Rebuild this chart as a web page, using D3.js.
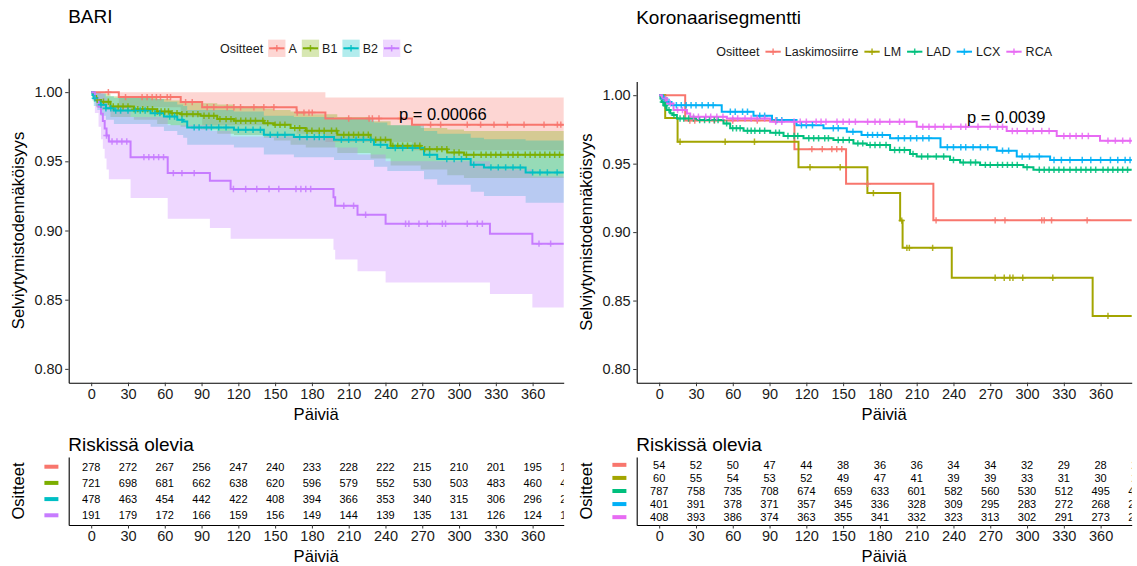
<!DOCTYPE html>
<html>
<head>
<meta charset="utf-8">
<script src="https://cdn.jsdelivr.net/npm/d3@7"></script>
<style>
  body { margin: 0; background: #fff; }
  svg { display: block; font-family: "Liberation Sans", Arial, sans-serif; }
</style>
</head>
<body>
<svg id="chart" width="1137" height="566"></svg>
<script>
// ---- shared axis data ----
const xTicks   = [0, 30, 60, 90, 120, 150, 180, 210, 240, 270, 300, 330, 360];
const riskDays = [0, 30, 60, 90, 120, 150, 180, 210, 240, 270, 300, 330, 360, 390];
const yTicks   = [0.80, 0.85, 0.90, 0.95, 1.00];

// ---- BARI panel ----
const bariGroups = ["A", "B1", "B2", "C"];
const bariColors = ["#F8766D", "#7CAE00", "#00BFC4", "#C77CFF"];

// [day, survival, lower, upper]
const bariA = [
  [0, 1, 1, 1], [22.5, 0.9964, 0.989, 1], [73, 0.9928, 0.982, 1], [90.5, 0.9891, 0.976, 1],
  [167.5, 0.9852, 0.970, 1], [191, 0.9810, 0.964, 0.9961], [261.6, 0.9765, 0.958, 0.9961]
];
const bariB1 = [
  [0, 1, 1, 1], [2, 0.9972, 0.993, 1], [4, 0.9944, 0.989, 0.9998], [8, 0.993, 0.987, 0.999],
  [15.7, 0.9896, 0.982, 0.997], [34.8, 0.9877, 0.980, 0.996], [53.8, 0.986, 0.977, 0.995],
  [64.7, 0.9848, 0.976, 0.994], [72.9, 0.9841, 0.975, 0.993], [89.2, 0.9829, 0.973, 0.992],
  [102.8, 0.9805, 0.970, 0.991], [116.4, 0.9793, 0.969, 0.990], [140.8, 0.9776, 0.967, 0.988],
  [149, 0.9764, 0.965, 0.987], [162.6, 0.974, 0.962, 0.986], [175, 0.9721, 0.960, 0.984],
  [200.7, 0.9692, 0.956, 0.982], [227.9, 0.9656, 0.952, 0.979], [244.2, 0.9612, 0.947, 0.976],
  [268.7, 0.9588, 0.944, 0.974], [290.4, 0.9564, 0.940, 0.973], [304, 0.9547, 0.938, 0.972]
];
const bariB2 = [
  [0, 1, 1, 1], [1, 0.9979, 0.994, 1], [2.1, 0.9956, 0.990, 1], [5, 0.9935, 0.987, 1],
  [7.6, 0.9908, 0.983, 0.999], [12, 0.9884, 0.980, 0.997], [18.5, 0.9867, 0.977, 0.996],
  [48.4, 0.9848, 0.975, 0.995], [59.3, 0.9824, 0.972, 0.993], [70.2, 0.98, 0.969, 0.991],
  [75, 0.9788, 0.967, 0.990], [78.3, 0.9745, 0.962, 0.987], [116.4, 0.9728, 0.960, 0.986],
  [140.8, 0.9692, 0.955, 0.983], [165.3, 0.9675, 0.953, 0.982], [198, 0.9656, 0.951, 0.981],
  [230.6, 0.962, 0.946, 0.978], [241.5, 0.9596, 0.943, 0.976], [271.4, 0.9547, 0.937, 0.972],
  [282.2, 0.9516, 0.933, 0.970], [309.5, 0.9475, 0.928, 0.967], [320.3, 0.9456, 0.925, 0.966],
  [354.3, 0.942, 0.920, 0.965]
];
const bariC = [
  [0, 1, 1, 1], [3, 0.9948, 0.985, 1], [6, 0.9895, 0.975, 1], [8, 0.9843, 0.966, 1],
  [9.5, 0.9791, 0.959, 0.999], [11, 0.9738, 0.952, 0.996], [12.5, 0.9686, 0.944, 0.994],
  [14.4, 0.9643, 0.937, 0.990], [32.1, 0.953, 0.9235, 0.982], [62.4, 0.9415, 0.9085, 0.976],
  [96.8, 0.936, 0.9018, 0.972], [113.7, 0.930, 0.894, 0.968], [197.6, 0.924, 0.886, 0.964],
  [199, 0.9179, 0.879, 0.960], [217.2, 0.9114, 0.8705, 0.955], [240.1, 0.9049, 0.8625, 0.950],
  [325.2, 0.8977, 0.8541, 0.944], [359.8, 0.8905, 0.8444, 0.939]
];

const bariACensor  = [14, 28, 41.5, 45.6, 49.7, 53.2, 56.5, 62, 64.7, 77, 82.4, 94.6, 100, 110.9, 116.4, 121.8, 132.7, 140.8, 149,
                      168, 173.5, 177.6, 180.3, 210, 226.6, 229.3, 234.7, 252.4, 276.8, 285, 306.7, 317.6, 328.5, 339.4, 353, 369.3, 380.2, 383];
const bariB1Censor = [5, 10, 14, 18, 22, 26, 30, 35, 38, 42, 46, 50, 54, 57, 60, 63, 66, 70, 74, 78, 83, 87, 92, 96, 100, 105, 110, 114,
                      118, 122, 126, 130, 134, 140, 144, 150, 154, 158, 166, 170, 176, 180, 186, 190, 196, 200, 206, 210, 214, 218, 222,
                      226, 232, 236, 240, 246, 250, 254, 258, 264, 268, 272, 276, 282, 286, 290, 296, 300, 306, 312, 318, 322, 326, 330,
                      334, 340, 344, 348, 354, 358, 362, 366, 370, 374, 378, 382];
const bariB2Censor = [3, 8, 12, 16, 20, 24, 30, 36, 40, 44, 52, 56, 64, 68, 74, 84, 88, 94, 98, 104, 110, 120, 126, 132, 138, 146, 152,
                      158, 170, 176, 182, 186, 190, 204, 210, 216, 222, 228, 236, 248, 254, 262, 276, 290, 296, 302, 312, 326, 332,
                      338, 344, 350, 360, 366, 372, 380];
const bariCCensor  = [12.5, 17, 21, 25, 29, 43, 47, 51, 55, 59, 67, 74, 84, 116, 126, 135, 145, 153, 167, 171, 175, 179, 206, 214,
                      223.8, 256.4, 259.1, 267.3, 274.1, 286.4, 289, 306.7, 314.9, 319, 365.2, 374.7];

const bariRiskA  = [278, 272, 267, 256, 247, 240, 233, 228, 222, 215, 210, 201, 195, 190];
const bariRiskB1 = [721, 698, 681, 662, 638, 620, 596, 579, 552, 530, 503, 483, 460, 446];
const bariRiskB2 = [478, 463, 454, 442, 422, 408, 394, 366, 353, 340, 315, 306, 296, 288];
const bariRiskC  = [191, 179, 172, 166, 159, 156, 149, 144, 139, 135, 131, 126, 124, 120];

// ---- Koronaarisegmentti panel ----
const koroGroups = ["Laskimosiirre", "LM", "LAD", "LCX", "RCA"];
const koroColors = ["#F8766D", "#A3A500", "#00BF7D", "#00B0F6", "#E76BF3"];

// [day, survival]
const koroLas = [[0, 1], [21.2, 0.9815], [110.3, 0.9606], [152.4, 0.9353], [223.6, 0.9086]];
const koroLM  = [[0, 1], [4.9, 0.9833], [15, 0.966], [113.6, 0.9474], [169.8, 0.9285], [196.5, 0.9084],
                 [198.5, 0.8885], [238.6, 0.8667], [353.5, 0.8388]];
const koroLAD = [[0, 1], [1, 0.9975], [2, 0.995], [4, 0.9925], [6, 0.9891], [9, 0.9868], [11, 0.9855], [14.4, 0.983],
                 [30, 0.9818], [52.4, 0.9794], [57.9, 0.9758], [68.8, 0.974], [90.5, 0.9726], [101.4, 0.9702],
                 [117.7, 0.9685], [142.1, 0.9673], [158.4, 0.9648], [169.3, 0.9636], [188.3, 0.96], [204.6, 0.9571],
                 [210, 0.9552], [237.2, 0.9527], [245.4, 0.9508], [261.7, 0.9491], [297, 0.9474], [305.2, 0.9455]];
const koroLCX = [[0, 1], [3, 0.9975], [6.25, 0.995], [10, 0.9927], [51, 0.9879], [76.9, 0.985], [92, 0.9818],
                 [112, 0.978], [134, 0.9758], [153, 0.9733], [165, 0.971], [188.3, 0.9685], [229.4, 0.962],
                 [275.3, 0.9595], [291.6, 0.9552], [318.8, 0.9527]];
const koroRCA = [[0, 1], [2.2, 0.9975], [6.25, 0.994], [11.7, 0.9891], [22.6, 0.9866], [25.3, 0.9842], [55.2, 0.983],
                 [90.5, 0.9806], [210, 0.977], [283.4, 0.9738], [324.2, 0.9702], [359.5, 0.9668]];

const koroLasCensor = [25, 29, 45, 60, 80, 95, 124.5, 133, 140.8, 144.8, 148.9, 170, 225.8, 274, 282, 312, 314, 320, 349];
const koroLMCensor  = [17, 53.8, 77.7, 123, 147.6, 174.7, 197.8, 202, 204, 223, 274, 281.4, 286, 288.5, 296.5, 321, 366];
const koroLADCensor = [3, 5, 8, 12, 17, 20, 24, 28, 33, 37, 41, 45, 48, 55, 60, 63, 66, 72, 75, 78, 82, 86, 95, 98, 105, 110,
                       113, 122, 126, 130, 135, 138, 146, 150, 155, 162, 166, 172, 176, 180, 185, 192, 196, 200, 207, 214, 219,
                       226, 232, 240, 248, 254, 258, 266, 270, 276, 280, 284, 288, 292, 300, 310, 314, 318, 322, 326, 330, 335,
                       340, 344, 348, 352, 356, 362, 366, 370, 374, 378, 382];
const koroLCXCensor = [4, 8, 14, 18, 22, 26, 30, 35, 40, 44, 58, 62, 68, 72, 82, 86, 96, 100, 116, 120, 125, 142, 146, 158, 170,
                       174, 178, 182, 195, 200, 205, 210, 215, 220, 235, 240, 246, 250, 256, 262, 268, 280, 285, 296, 302, 310,
                       322, 328, 335, 345, 352, 360, 368, 374, 380, 384];
const koroRCACensor = [5, 9, 15, 19, 28, 32, 38, 42, 47, 52, 60, 64, 70, 75, 80, 86, 95, 100, 110, 115, 120, 128, 132, 136, 145,
                       150, 155, 160, 170, 176, 180, 188, 196, 200, 215, 220, 225, 232, 238, 246, 250, 260, 270, 276, 280, 288,
                       292, 300, 305, 312, 318, 330, 335, 340, 345, 350, 366, 372, 378, 384];

const koroRiskLas = [54, 52, 50, 47, 44, 38, 36, 36, 34, 34, 32, 29, 28, 27];
const koroRiskLM  = [60, 55, 54, 53, 52, 49, 47, 41, 39, 39, 33, 31, 30, 29];
const koroRiskLAD = [787, 758, 735, 708, 674, 659, 633, 601, 582, 560, 530, 512, 495, 481];
const koroRiskLCX = [401, 391, 378, 371, 357, 345, 336, 328, 309, 295, 283, 272, 268, 262];
const koroRiskRCA = [408, 393, 386, 374, 363, 355, 341, 332, 323, 313, 302, 291, 273, 265];

// ---- layout ----
const svg = d3.select("#chart");
const panelW = 495;
const xDomain = [-18.35, 385.35];
const yDomain = [0.79, 1.01];
const plotBottom = 382.7;
const tableTop = 457, tableBottom = 525;

function survAt(curve, t) {
  let s = 1;
  curve.forEach(p => { if (p[0] <= t) s = p[1]; });
  return s;
}

function crossPath(cx, cy) {
  return `M${cx - 3.2},${cy}H${cx + 3.2}M${cx},${cy - 3.2}V${cy + 3.2}`;
}

function drawPanel(opt) {
  const left = opt.left, right = opt.left + panelW;
  const g = svg.append("g");

  // SCALES
  const x = d3.scaleLinear().domain(xDomain).range([left, right]);
  const y = d3.scaleLinear().domain(yDomain).range([plotBottom, opt.top]);

  const clipId = "clip-" + opt.id;
  svg.append("clipPath").attr("id", clipId)
    .append("rect")
      .attr("x", left).attr("y", opt.top - 5)
      .attr("width", panelW).attr("height", plotBottom - opt.top + 5);

  const plot = g.append("g").attr("clip-path", `url(#${clipId})`);

  // extend every curve to the panel edge
  const ext = c => c.concat([c[c.length - 1].map((v, i) => i === 0 ? 400 : v)]);

  // CONFIDENCE BANDS
  if (opt.bands) {
    const area = d3.area().curve(d3.curveStepAfter)
      .x(d => x(d[0])).y0(d => y(d[2])).y1(d => y(d[3]));
    opt.curves.forEach((c, i) => {
      plot.append("path")
        .attr("d", area(ext(c)))
        .attr("fill", opt.colors[i])
        .attr("fill-opacity", 0.3);
    });
  }

  // STEP LINES
  const line = d3.line().curve(d3.curveStepAfter)
    .x(d => x(d[0])).y(d => y(d[1]));
  opt.curves.forEach((c, i) => {
    plot.append("path")
      .attr("d", line(ext(c)))
      .attr("fill", "none")
      .attr("stroke", opt.colors[i])
      .attr("stroke-width", 2);
  });

  // CENSOR MARKS
  opt.censors.forEach((cens, i) => {
    plot.append("path")
      .attr("d", cens.map(t => crossPath(x(t), y(survAt(opt.curves[i], t)))).join(""))
      .attr("fill", "none")
      .attr("stroke", opt.colors[i])
      .attr("stroke-width", 1.5)
      .attr("stroke-opacity", 0.85);
  });

  // AXES
  const yAxis = g.append("g")
    .attr("transform", `translate(${left},0)`)
    .call(d3.axisLeft(y).tickValues(yTicks).tickFormat(d3.format(".2f"))
      .tickSize(3.5).tickPadding(2.5).tickSizeOuter(0));
  const xAxis = g.append("g")
    .attr("transform", `translate(0,${plotBottom})`)
    .call(d3.axisBottom(x).tickValues(xTicks).tickFormat(d3.format("d"))
      .tickSize(3.5).tickPadding(2.5).tickSizeOuter(0));
  [yAxis, xAxis].forEach(a => {
    a.attr("font-family", null).attr("font-size", 14.5);
    a.selectAll("text").attr("fill", "#1a1a1a");
    a.select(".domain").attr("stroke", "#000").attr("stroke-width", 1.1);
    a.selectAll(".tick line").attr("stroke", "#333");
  });

  // AXIS LABELS
  g.append("text")
    .attr("transform", `translate(${left - 50.4},${(opt.top + plotBottom) / 2}) rotate(-90)`)
    .attr("text-anchor", "middle").attr("dy", "0.35em")
    .attr("font-size", 16.6)
    .text("Selviytymistodennäköisyys");
  g.append("text")
    .attr("x", (left + right) / 2).attr("y", 420)
    .attr("text-anchor", "middle")
    .attr("font-size", 16.6)
    .text("Päiviä");

  // TITLE
  g.append("text")
    .attr("x", left - 0.5).attr("y", opt.titleY)
    .attr("font-size", 19)
    .text(opt.title);

  // P-VALUE
  g.append("text")
    .attr("x", x(251)).attr("y", y(0.98))
    .attr("font-size", 16.5)
    .text(opt.pval);

  // LEGEND
  const leg = g.append("g");
  const legTitle = leg.append("text")
    .attr("x", 0).attr("dy", "0.35em")
    .attr("font-size", 12.5).attr("fill", "#1a1a1a")
    .text("Ositteet");
  let cx = legTitle.node().getComputedTextLength() + 5;
  opt.groups.forEach((name, i) => {
    if (opt.bands) {
      leg.append("rect")
        .attr("x", cx).attr("y", -8.65)
        .attr("width", 17.3).attr("height", 17.3)
        .attr("fill", opt.colors[i]).attr("fill-opacity", 0.3);
    }
    leg.append("line")
      .attr("x1", cx + 1).attr("x2", cx + 16.3)
      .attr("stroke", opt.colors[i]).attr("stroke-width", 2);
    leg.append("path")
      .attr("d", crossPath(cx + 8.65, 0))
      .attr("stroke", opt.colors[i]).attr("stroke-width", 1.5)
      .attr("stroke-opacity", 0.85);
    const lab = leg.append("text")
      .attr("x", cx + 20.3).attr("dy", "0.35em")
      .attr("font-size", 12.5).attr("fill", "#1a1a1a")
      .text(name);
    cx += 20.3 + lab.node().getComputedTextLength() + 5;
  });
  const legW = cx - 5;
  leg.attr("transform", `translate(${(left + right) / 2 - legW / 2},${opt.legendY})`);

  // ---- RISK TABLE ----
  const rows = d3.scalePoint().domain(opt.groups).range([tableTop, tableBottom]).padding(0.6);

  g.append("text")
    .attr("x", left - 0.5).attr("y", 450.5)
    .attr("font-size", 19)
    .text("Riskissä olevia");

  const tClip = "tclip-" + opt.id;
  svg.append("clipPath").attr("id", tClip)
    .append("rect")
      .attr("x", left).attr("y", tableTop)
      .attr("width", panelW).attr("height", tableBottom - tableTop);

  const cells = g.append("g").attr("clip-path", `url(#${tClip})`);
  opt.risk.forEach((vals, i) => {
    cells.selectAll(null)
      .data(vals)
      .enter()
      .append("text")
        .attr("x", (d, j) => x(riskDays[j]))
        .attr("y", rows(opt.groups[i]))
        .attr("dy", "0.35em")
        .attr("text-anchor", "middle")
        .attr("font-size", 11)
        .text(d => d);
  });

  // coloured strata keys instead of labels
  opt.groups.forEach((name, i) => {
    g.append("rect")
      .attr("x", left - 24.3).attr("y", rows(name) - 2)
      .attr("width", 14).attr("height", 4)
      .attr("fill", opt.colors[i]);
  });

  const tyAxis = g.append("g")
    .attr("transform", `translate(${left},0)`)
    .call(d3.axisLeft(d3.scaleLinear().range([tableBottom, tableTop])).tickValues([]).tickSizeOuter(0));
  const txAxis = g.append("g")
    .attr("transform", `translate(0,${tableBottom})`)
    .call(d3.axisBottom(x).tickValues(xTicks).tickFormat(d3.format("d"))
      .tickSize(3.5).tickPadding(2.5).tickSizeOuter(0));
  [tyAxis, txAxis].forEach(a => {
    a.attr("font-family", null).attr("font-size", 14.5);
    a.selectAll("text").attr("fill", "#1a1a1a");
    a.select(".domain").attr("stroke", "#000").attr("stroke-width", 1.1);
    a.selectAll(".tick line").attr("stroke", "#333");
  });

  g.append("text")
    .attr("transform", `translate(${left - 50.4},${(tableTop + tableBottom) / 2}) rotate(-90)`)
    .attr("text-anchor", "middle").attr("dy", "0.35em")
    .attr("font-size", 16.6)
    .text("Ositteet");
  g.append("text")
    .attr("x", (left + right) / 2).attr("y", 562)
    .attr("text-anchor", "middle")
    .attr("font-size", 16.6)
    .text("Päiviä");
}

drawPanel({
  id: "bari", left: 68.7, top: 78.3, titleY: 22.5, legendY: 48.3,
  title: "BARI", pval: "p = 0.00066", bands: true,
  groups: bariGroups, colors: bariColors,
  curves: [bariA, bariB1, bariB2, bariC],
  censors: [bariACensor, bariB1Censor, bariB2Censor, bariCCensor],
  risk: [bariRiskA, bariRiskB1, bariRiskB2, bariRiskC]
});

drawPanel({
  id: "koro", left: 636.7, top: 81.5, titleY: 23.5, legendY: 51.7,
  title: "Koronaarisegmentti", pval: "p = 0.0039", bands: false,
  groups: koroGroups, colors: koroColors,
  curves: [koroLas, koroLM, koroLAD, koroLCX, koroRCA],
  censors: [koroLasCensor, koroLMCensor, koroLADCensor, koroLCXCensor, koroRCACensor],
  risk: [koroRiskLas, koroRiskLM, koroRiskLAD, koroRiskLCX, koroRiskRCA]
});
</script>
</body>
</html>
